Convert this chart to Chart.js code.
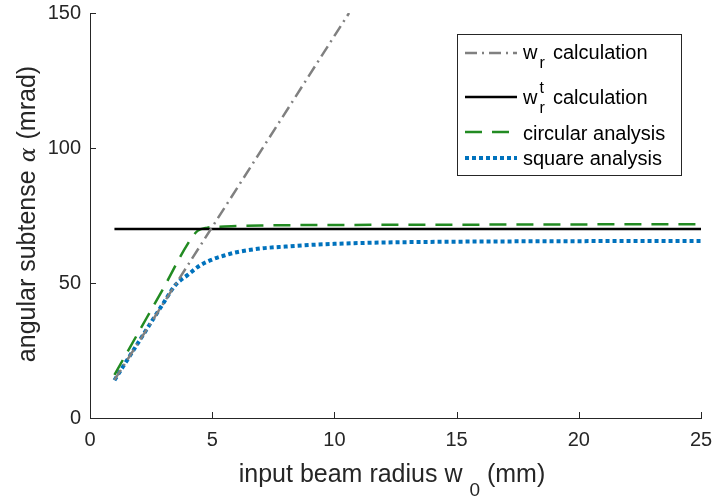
<!DOCTYPE html>
<html>
<head>
<meta charset="utf-8">
<script src="https://cdn.jsdelivr.net/npm/chart.js@4.4.1/dist/chart.umd.min.js"></script>
<style>
  html, body { margin: 0; padding: 0; background: #fff; }
  canvas { display: block; }
</style>
</head>
<body>
<canvas id="chart" width="715" height="497"></canvas>
<script>
// Beam radius w0 (mm) vs angular subtense alpha (mrad)
const wrX = [1, 10.6];
const wrY = [14.1, 150];

const wrtX = [1, 25];
const wrtY = [70, 70];

const circX = [1, 2, 3, 4, 4.4, 4.8, 5.5, 6, 7, 8, 10, 15, 20, 25];
const circY = [16, 32, 48, 64.5, 69.3, 70.5, 70.9, 71.1, 71.3, 71.4, 71.5, 71.6, 71.7, 71.8];

const sqX = [1, 2, 3, 3.5, 4, 4.5, 5, 5.5, 6, 7, 8, 9, 10, 12, 15, 20, 25];
const sqY = [14, 28.3, 42.5, 49.3, 53, 56.5, 58.7, 60.2, 61.4, 62.8, 63.5, 64.1, 64.5, 65, 65.3, 65.5, 65.6];

const xTicks = [0, 5, 10, 15, 20, 25];
const yTicks = [0, 50, 100, 150];

const AXIS = "#262626";
const FONT = "'Liberation Sans', Arial, sans-serif";

function pts(xs, ys) {
  return xs.map((x, i) => ({ x: x, y: ys[i] }));
}

// Axis titles with sub/superscripts
const titlesPlugin = {
  id: "titles",
  afterDraw(chart) {
    const ctx = chart.ctx;
    ctx.save();
    ctx.fillStyle = AXIS;
    ctx.textBaseline = "alphabetic";

    // x title
    const main = "input beam radius w ";
    const rest = " (mm)";
    ctx.font = "25px " + FONT;
    const w1 = ctx.measureText(main).width;
    const w3 = ctx.measureText(rest).width;
    ctx.font = "19px " + FONT;
    const w2 = ctx.measureText("0").width;
    let x = 392 - (w1 + w2 + w3) / 2;
    ctx.font = "25px " + FONT;
    ctx.fillText(main, x, 482);
    ctx.font = "19px " + FONT;
    ctx.fillText("0", x + w1, 496);
    ctx.font = "25px " + FONT;
    ctx.fillText(rest, x + w1 + w2, 482);

    // y title (rotated), alpha in italic serif like TeX
    ctx.translate(35, 214);
    ctx.rotate(-Math.PI / 2);
    const a = "angular subtense";
    const b = "(mrad)";
    const gap = 8;
    ctx.font = "25px " + FONT;
    const wa = ctx.measureText(a).width;
    const wb = ctx.measureText(b).width;
    ctx.font = "italic 22px 'DejaVu Serif', serif";
    const wal = ctx.measureText("\u03b1").width;
    let y = -(wa + wal + wb + 2 * gap) / 2;
    ctx.font = "25px " + FONT;
    ctx.fillText(a, y, 0);
    ctx.font = "italic 22px 'DejaVu Serif', serif";
    ctx.fillText("\u03b1", y + wa + gap, 0);
    ctx.font = "25px " + FONT;
    ctx.fillText(b, y + wa + wal + 2 * gap, 0);
    ctx.restore();
  },
};

// Inward tick marks, MATLAB style
const ticksPlugin = {
  id: "inTicks",
  afterDraw(chart) {
    const ctx = chart.ctx;
    const xs = chart.scales.x;
    const ys = chart.scales.y;
    const area = chart.chartArea;
    ctx.save();
    ctx.strokeStyle = AXIS;
    ctx.lineWidth = 1;
    ctx.beginPath();
    xTicks.forEach((v) => {
      const px = Math.round(xs.getPixelForValue(v)) + 0.5;
      ctx.moveTo(px, area.bottom);
      ctx.lineTo(px, area.bottom - 6);
    });
    yTicks.forEach((v) => {
      const py = Math.round(ys.getPixelForValue(v)) + 0.5;
      ctx.moveTo(area.left, py);
      ctx.lineTo(area.left + 6, py);
    });
    ctx.stroke();
    ctx.restore();
  },
};

// Legend box drawn by hand (needs subscripts)
const legendPlugin = {
  id: "customLegend",
  afterDraw(chart) {
    const ctx = chart.ctx;
    const ds = chart.data.datasets;
    const rows = [
      { line: 53, base: 59, sub: "r", sup: null },
      { line: 97, base: 104, sub: "r", sup: "t" },
      { line: 132, base: 140 },
      { line: 158, base: 165 },
    ];
    ctx.save();
    ctx.fillStyle = "#fff";
    ctx.fillRect(457.5, 34.5, 224, 141);
    ctx.strokeStyle = AXIS;
    ctx.lineWidth = 1;
    ctx.strokeRect(457.5, 34.5, 224, 141);

    rows.forEach((r, i) => {
      const d = ds[i];
      ctx.strokeStyle = d.borderColor;
      ctx.lineWidth = d.borderWidth;
      ctx.setLineDash(d.borderDash || []);
      ctx.beginPath();
      ctx.moveTo(465, r.line);
      ctx.lineTo(517, r.line);
      ctx.stroke();
      ctx.setLineDash([]);

      ctx.fillStyle = "#000";
      ctx.font = "20px " + FONT;
      if (r.sub) {
        ctx.fillText("w", 523, r.base);
        const ww = ctx.measureText("w").width;
        ctx.font = "16px " + FONT;
        ctx.fillText(r.sub, 523 + ww + 2, r.base + 9);
        if (r.sup) ctx.fillText(r.sup, 523 + ww + 2, r.base - 11);
        ctx.font = "20px " + FONT;
        ctx.fillText("calculation", 553, r.base);
      } else {
        ctx.fillText(d.label, 523, r.base);
      }
    });
    ctx.restore();
  },
};

new Chart(document.getElementById("chart"), {
  type: "line",
  data: {
    datasets: [
      {
        label: "w_r calculation",
        data: pts(wrX, wrY),
        borderColor: "#808080",
        borderWidth: 2.5,
        borderDash: [12, 5, 2, 5],
        pointRadius: 0,
      },
      {
        label: "w_r^t calculation",
        data: pts(wrtX, wrtY),
        borderColor: "#000000",
        borderWidth: 2.5,
        pointRadius: 0,
      },
      {
        label: "circular analysis",
        data: pts(circX, circY),
        borderColor: "#228B22",
        borderWidth: 2.5,
        borderDash: [17, 10],
        pointRadius: 0,
        cubicInterpolationMode: "monotone",
      },
      {
        label: "square analysis",
        data: pts(sqX, sqY),
        borderColor: "#0072BD",
        borderWidth: 4,
        borderDash: [4, 3],
        pointRadius: 0,
        cubicInterpolationMode: "monotone",
      },
    ],
  },
  options: {
    responsive: false,
    animation: false,
    layout: { padding: { left: 0, top: 13, right: 14, bottom: 0 } },
    plugins: {
      legend: { display: false },
      tooltip: { enabled: false },
    },
    scales: {
      x: {
        type: "linear",
        min: 0,
        max: 25,
        afterBuildTicks: (s) => {
          s.ticks = xTicks.map((v) => ({ value: v }));
        },
        afterFit: (s) => {
          s.height = 79;
          s.paddingLeft = 0;
          s.paddingRight = 0;
        },
        grid: { display: false, drawTicks: false },
        border: { display: true, color: AXIS, width: 1 },
        ticks: {
          color: AXIS,
          font: { family: FONT, size: 20 },
          padding: 10,
          maxRotation: 0,
        },
      },
      y: {
        min: 0,
        max: 150,
        afterBuildTicks: (s) => {
          s.ticks = yTicks.map((v) => ({ value: v }));
        },
        afterFit: (s) => {
          s.width = 90;
          s.paddingTop = 0;
          s.paddingBottom = 0;
        },
        grid: { display: false, drawTicks: false },
        border: { display: true, color: AXIS, width: 1 },
        ticks: {
          color: AXIS,
          font: { family: FONT, size: 20 },
          padding: 9,
        },
      },
    },
  },
  plugins: [titlesPlugin, ticksPlugin, legendPlugin],
});
</script>
</body>
</html>
